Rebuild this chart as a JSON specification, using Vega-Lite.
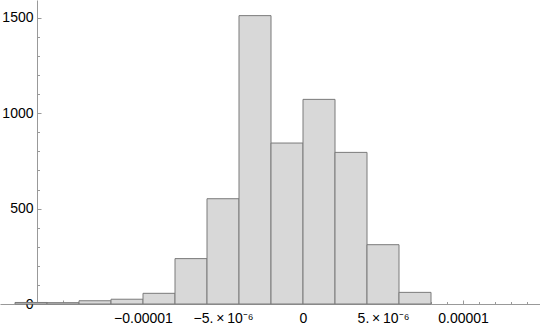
{
  "$schema": "https://vega.github.io/schema/vega-lite/v6.json",
  "width": 540,
  "height": 304,
  "autosize": "none",
  "padding": {"left": 0, "top": 0, "right": 0, "bottom": 22},
  "background": "white",
  "config": {
    "view": {"stroke": null},
    "axis": {
      "labelFont": "Liberation Sans",
      "labelFontSize": 14,
      "labelColor": "#000000",
      "domainColor": "#999999",
      "tickColor": "#999999",
      "domainWidth": 1,
      "tickWidth": 1,
      "grid": false,
      "title": null,
      "zindex": 1,
      "labelFlush": false,
      "labelOverlap": false,
      "labelBound": false
    }
  },
  "data": {
    "values": [
      {"lo": -0.000018, "hi": -0.000016, "count": 8},
      {"lo": -0.000016, "hi": -0.000014, "count": 7},
      {"lo": -0.000014, "hi": -0.000012, "count": 17},
      {"lo": -0.000012, "hi": -0.00001, "count": 25},
      {"lo": -0.00001, "hi": -0.000008, "count": 56},
      {"lo": -0.000008, "hi": -0.000006, "count": 238},
      {"lo": -0.000006, "hi": -0.000004, "count": 552},
      {"lo": -0.000004, "hi": -0.000002, "count": 1512},
      {"lo": -0.000002, "hi": 0, "count": 844},
      {"lo": 0, "hi": 0.000002, "count": 1073},
      {"lo": 0.000002, "hi": 0.000004, "count": 795},
      {"lo": 0.000004, "hi": 0.000006, "count": 311},
      {"lo": 0.000006, "hi": 0.000008, "count": 61}
    ]
  },
  "resolve": {"axis": {"x": "independent", "y": "independent"}},
  "layer": [
    {
      "mark": {"type": "bar", "fill": "#d8d8d8", "stroke": "#7a7a7a", "strokeWidth": 1},
      "encoding": {
        "x": {
          "field": "lo",
          "type": "quantitative",
          "scale": {"domain": [-0.0000189375, 0.0000148125], "nice": false, "zero": false},
          "axis": {
            "orient": "bottom",
            "values": [-0.000015, -0.00001, -0.000005, 0, 0.000005, 0.00001],
            "tickSize": -4,
            "labelPadding": 11,
            "labelBaseline": "top",
            "labelExpr": "abs(datum.value) < 1e-12 ? '0' : datum.value > 0.0000099 ? '0.00001' : datum.value > 0.0000049 ? '5.\u2009×\u200910⁻⁶' : datum.value < -0.000014 ? '' : datum.value < -0.0000099 ? '−0.00001' : '−5.\u2009×\u200910⁻⁶'"
          }
        },
        "x2": {"field": "hi"},
        "y": {
          "field": "count",
          "type": "quantitative",
          "scale": {"domain": [0, 1594], "nice": false},
          "axis": {
            "orient": "left",
            "offset": -37,
            "values": [0, 500, 1000, 1500],
            "format": "d",
            "tickSize": -4,
            "labelPadding": 8,
            "labelBaseline": "middle"
          }
        },
        "y2": {"datum": 0}
      }
    },
    {
      "mark": {"type": "bar", "opacity": 0},
      "encoding": {
        "x": {
          "field": "lo",
          "type": "quantitative",
          "axis": {
            "orient": "bottom",
            "values": [-0.000018, -0.000017, -0.000016, -0.000014, -0.000013, -0.000012, -0.000011, -0.000009, -0.000008, -0.000007, -0.000006, -0.000004, -0.000003, -0.000002, -0.000001, 0.000001, 0.000002, 0.000003, 0.000004, 0.000006, 0.000007, 0.000008, 0.000009, 0.000011, 0.000012, 0.000013, 0.000014],
            "tickSize": -2.5,
            "labels": false,
            "domain": false
          }
        },
        "x2": {"field": "hi"},
        "y": {
          "field": "count",
          "type": "quantitative",
          "axis": {
            "orient": "left",
            "offset": -37,
            "values": [100, 200, 300, 400, 600, 700, 800, 900, 1100, 1200, 1300, 1400],
            "tickSize": -2.5,
            "labels": false,
            "domain": false
          }
        },
        "y2": {"datum": 0}
      }
    }
  ]
}
